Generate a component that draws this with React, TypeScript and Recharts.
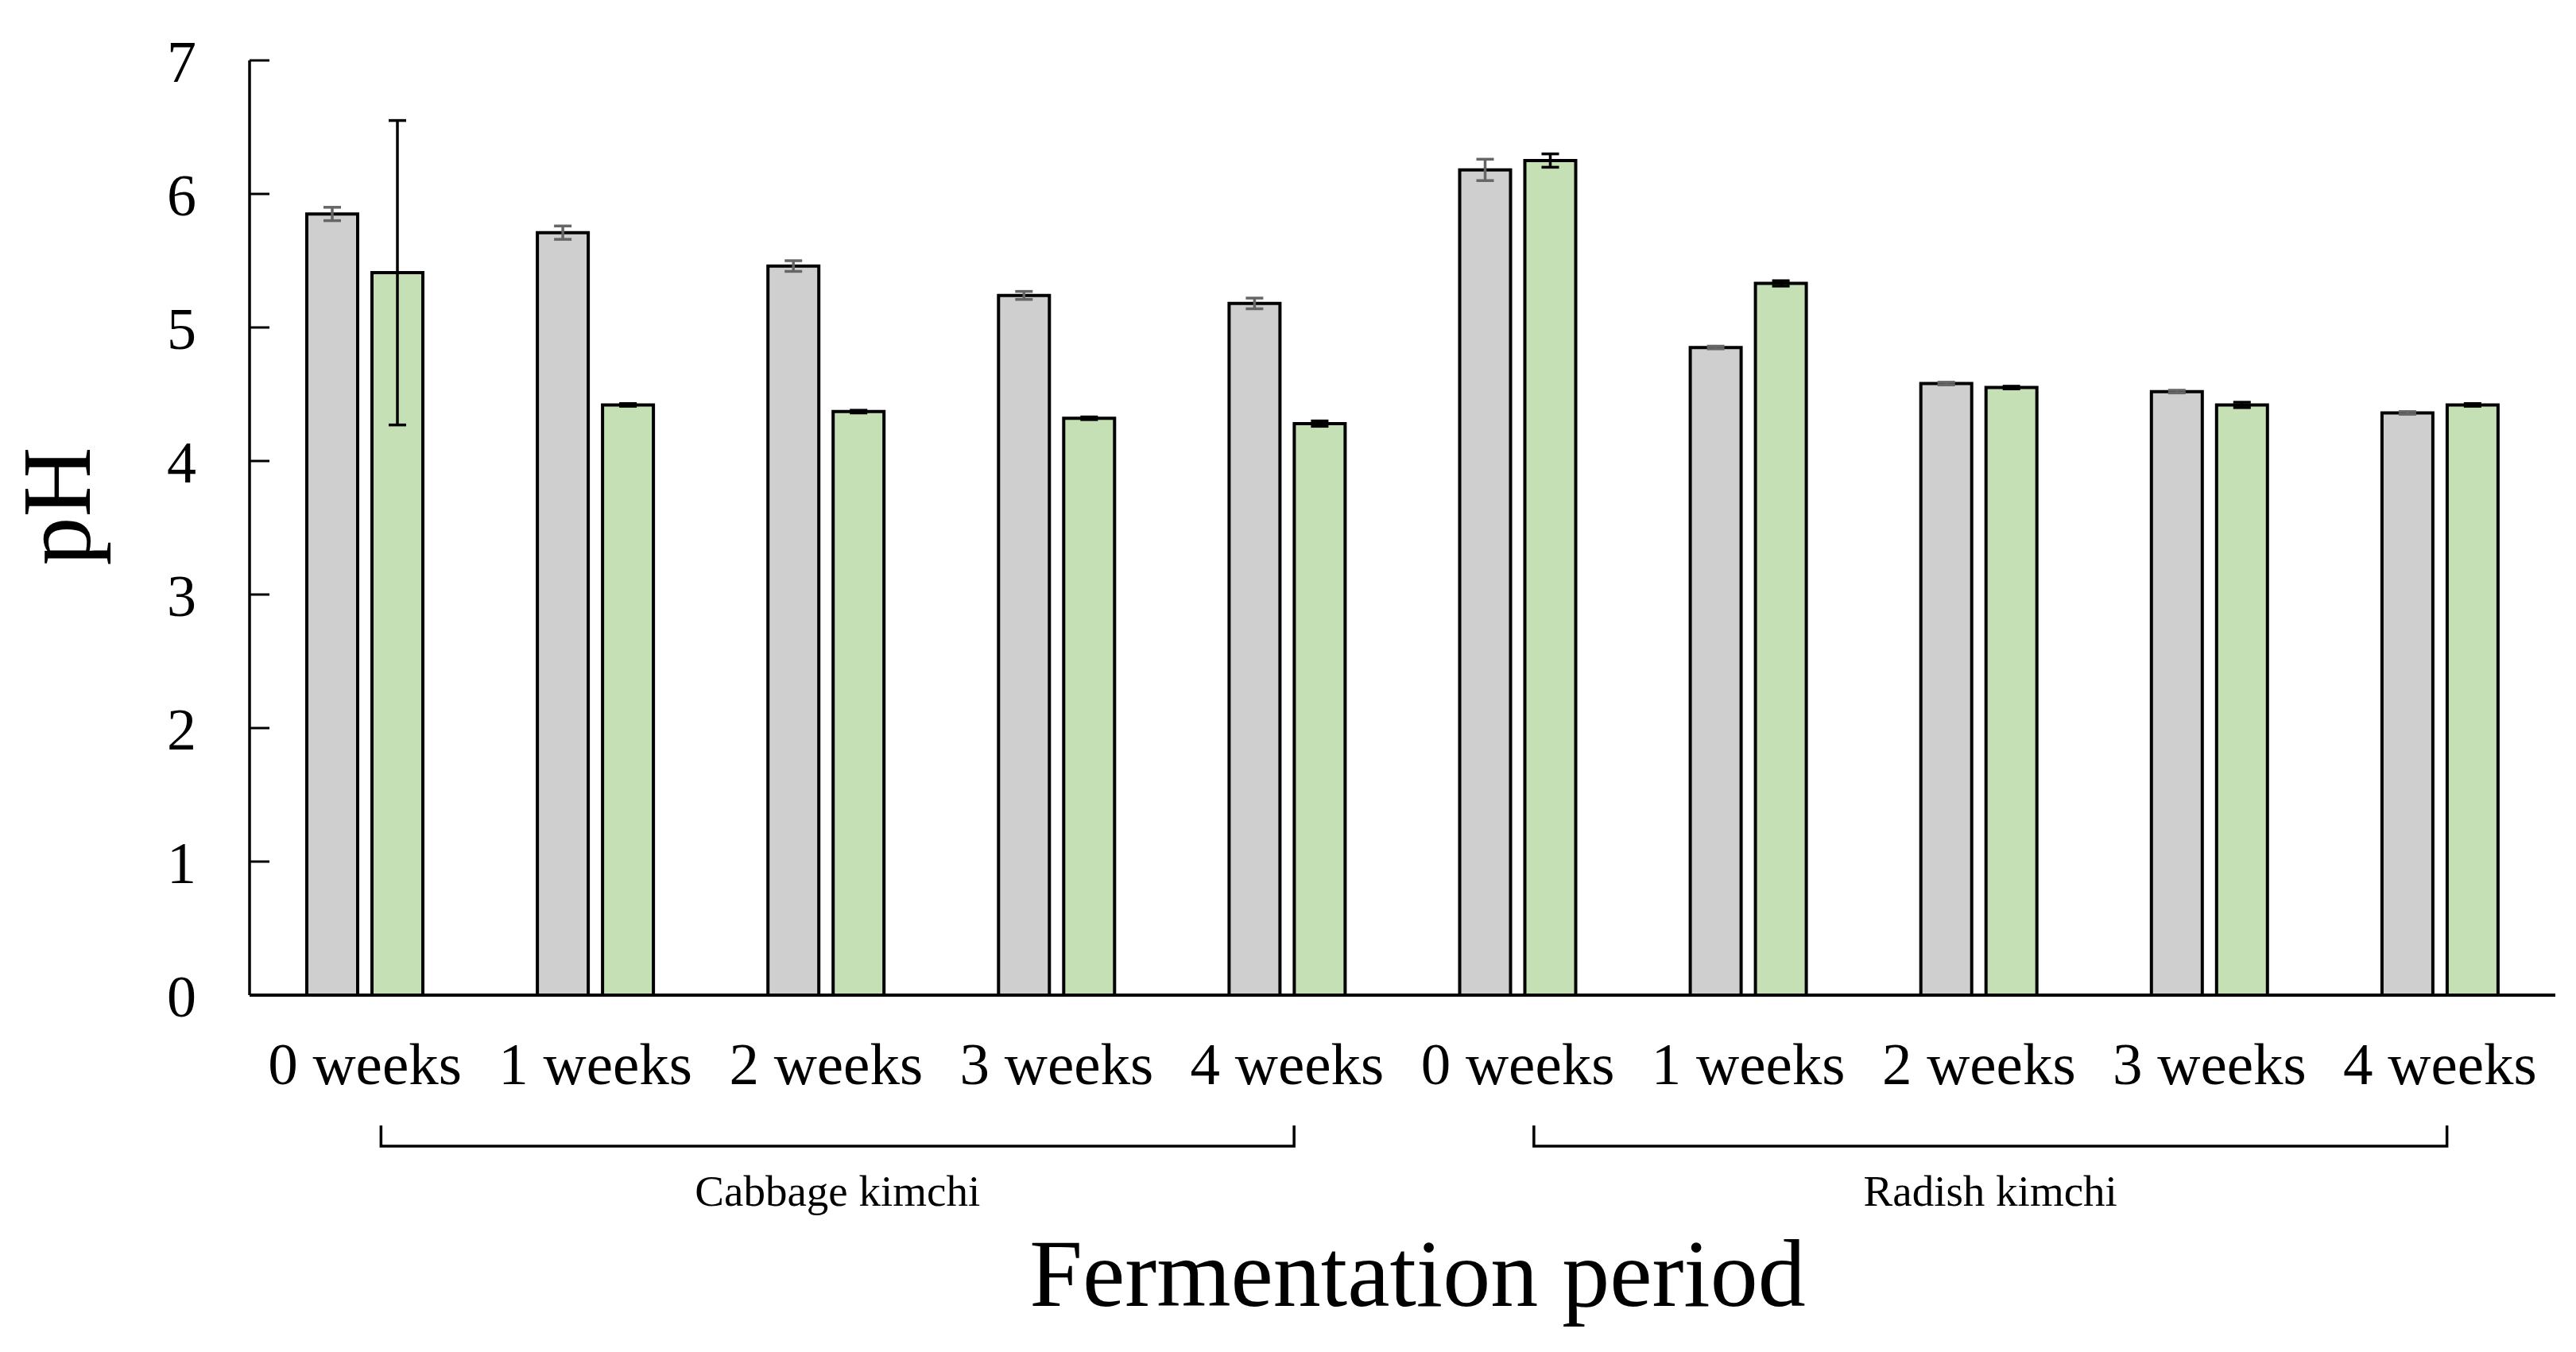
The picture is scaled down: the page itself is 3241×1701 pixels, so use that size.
import { BarChart, Bar, XAxis, YAxis, ErrorBar, Label } from 'recharts';

const CHART_W = 3241;
const CHART_H = 1701;
const MARGIN = { top: 76, right: 26, left: 0, bottom: 0 };
const Y_AXIS_W = 314;
const X_AXIS_H = 449;
const PLOT_W = CHART_W - MARGIN.left - MARGIN.right - Y_AXIS_W;
const FONT = "'Liberation Serif', 'Times New Roman', serif";

const kimchiTypes = ['Cabbage kimchi', 'Radish kimchi'];
const periods = ['0 weeks', '1 weeks', '2 weeks', '3 weeks', '4 weeks'];

// grey bars, then green bars (cabbage 0-4 weeks, radish 0-4 weeks)
const grayValues = [5.85, 5.71, 5.46, 5.24, 5.18, 6.18, 4.85, 4.58, 4.52, 4.36];
const grayErrors = [0.05, 0.05, 0.04, 0.03, 0.04, 0.08, 0.01, 0.01, 0.01, 0.01];
const greenValues = [5.41, 4.42, 4.37, 4.32, 4.28, 6.25, 5.33, 4.55, 4.42, 4.42];
const greenErrors = [1.14, 0.01, 0.01, 0.01, 0.02, 0.05, 0.02, 0.01, 0.02, 0.01];

const yTicks = [0, 1, 2, 3, 4, 5, 6, 7];

const data = kimchiTypes.flatMap((type, t) =>
    periods.map((period, p) => {
        const i = t * periods.length + p;
        return {
            key: `${type}|${period}`,
            gray: grayValues[i],
            grayErr: grayErrors[i],
            green: greenValues[i],
            greenErr: greenErrors[i]
        };
    })
);

const YTick = (props: any) => {
    const { x, y, payload } = props;
    return (
        <g>
            <line x1={x} y1={y} x2={x + 25} y2={y} stroke="#000" strokeWidth={3} />
            <text x={x - 67} y={y} dy="0.36em" textAnchor="end" fontFamily={FONT} fontSize={74} fill="#000">
                {payload.value}
            </text>
        </g>
    );
};

const XTick = (props: any) => {
    const { x, y, payload, index } = props;
    const [group, period] = String(payload.value).split('|');
    const band = PLOT_W / data.length;
    const isFirst = index % periods.length === 0;
    const start = x + band * 0.07;
    const end = x + band * (periods.length - 1) + band * 0.03;
    return (
        <g>
            <text x={x} y={y + 112} textAnchor="middle" fontFamily={FONT} fontSize={75} fill="#000">
                {period}
            </text>
            {isFirst && (
                <g>
                    <path
                        d={`M${start},${y + 164} L${start},${y + 190} L${end},${y + 190} L${end},${y + 164}`}
                        fill="none"
                        stroke="#000"
                        strokeWidth={3.5}
                    />
                    <text x={(start + end) / 2} y={y + 265} textAnchor="middle" fontFamily={FONT} fontSize={55} fill="#000">
                        {group}
                    </text>
                </g>
            )}
        </g>
    );
};

const App = () => {
    return (
        <div style={{ width: CHART_W, height: CHART_H, background: '#fff' }}>
            <style>{'body { margin: 0; }'}</style>
            <BarChart width={CHART_W} height={CHART_H} data={data} margin={MARGIN} barGap={18}>
                <XAxis
                    dataKey="key"
                    height={X_AXIS_H}
                    interval={0}
                    tickLine={false}
                    tickSize={0}
                    tickMargin={0}
                    axisLine={{ stroke: '#000', strokeWidth: 4 }}
                    tick={<XTick />}
                >
                    <Label
                        content={(p: any) => {
                            const vb = p.viewBox;
                            return (
                                <text x={vb.x + vb.width / 2 + 19} y={vb.y + 391} textAnchor="middle" fontFamily={FONT} fontSize={120} fill="#000">
                                    Fermentation period
                                </text>
                            );
                        }}
                    />
                </XAxis>
                <YAxis
                    width={Y_AXIS_W}
                    domain={[0, 7]}
                    ticks={yTicks}
                    interval={0}
                    tickLine={false}
                    tickSize={0}
                    tickMargin={0}
                    axisLine={{ stroke: '#000', strokeWidth: 3.5 }}
                    tick={<YTick />}
                >
                    <Label
                        content={(p: any) => {
                            const vb = p.viewBox;
                            const cx = 113;
                            const cy = vb.y + vb.height / 2 - 27;
                            return (
                                <text x={cx} y={cy} textAnchor="middle" fontFamily={FONT} fontSize={122} fill="#000" transform={`rotate(-90, ${cx}, ${cy})`}>
                                    pH
                                </text>
                            );
                        }}
                    />
                </YAxis>
                <Bar dataKey="gray" fill="#D0CFD0" stroke="#000" strokeWidth={4} barSize={64} isAnimationActive={false}>
                    <ErrorBar dataKey="grayErr" direction="y" width={11} stroke="#666666" strokeWidth={3.5} isAnimationActive={false} />
                </Bar>
                <Bar dataKey="green" fill="#C5E0B4" stroke="#000" strokeWidth={4} barSize={64} isAnimationActive={false}>
                    <ErrorBar dataKey="greenErr" direction="y" width={11} stroke="#000" strokeWidth={3.5} isAnimationActive={false} />
                </Bar>
            </BarChart>
        </div>
    );
};

export default App;
